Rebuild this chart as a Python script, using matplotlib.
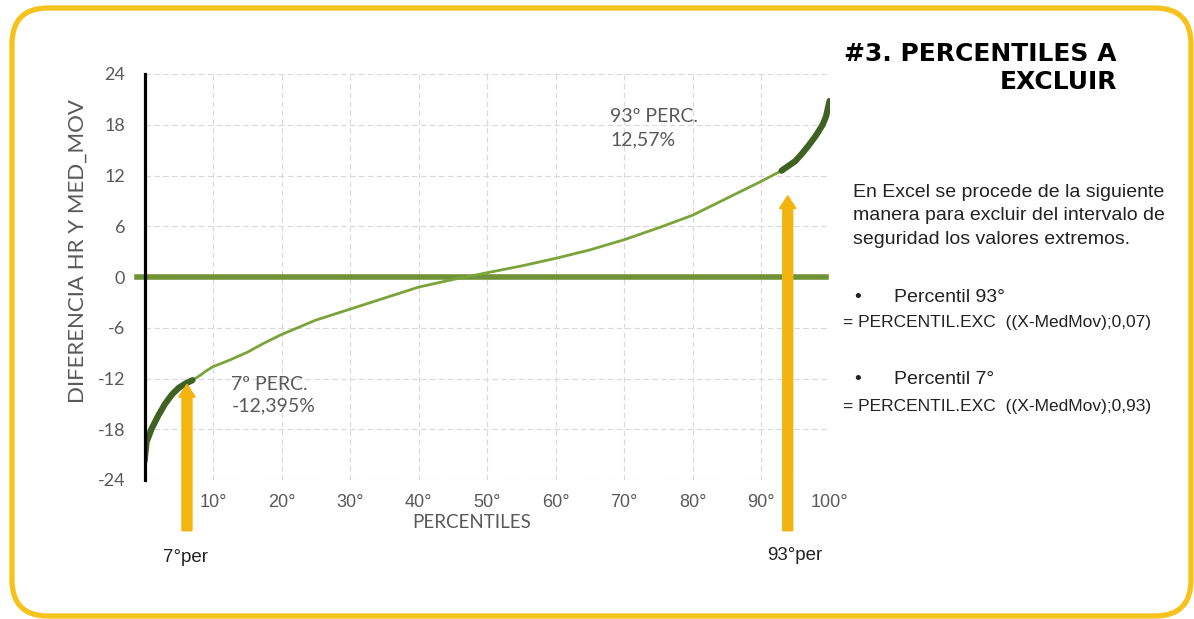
import matplotlib
matplotlib.use('Agg')
import matplotlib.pyplot as plt
from matplotlib.patches import FancyBboxPatch

# percentile vs difference (HR - moving median)
pct = [0, 0.3, 1, 2, 3, 4, 5, 6, 7, 8, 9, 10, 12.5, 15, 17.5, 20, 25, 30, 35,
       40, 45, 50, 55, 60, 65, 70, 75, 80, 85, 90, 93, 95, 96, 97, 98, 99,
       99.5, 100]
diff = [-21.8, -19.5, -18.0, -16.4, -15.0, -13.9, -13.1, -12.6, -12.2, -11.7,
        -11.1, -10.6, -9.8, -8.9, -7.8, -6.8, -5.1, -3.8, -2.5, -1.2, -0.3,
        0.5, 1.3, 2.2, 3.2, 4.4, 5.8, 7.3, 9.3, 11.3, 12.57, 13.7, 14.6, 15.6,
        16.7, 18.0, 19.0, 20.8]

xticks = [10, 20, 30, 40, 50, 60, 70, 80, 90, 100]
xtick_labels = ['10°', '20°', '30°', '40°', '50°', '60°', '70°', '80°', '90°', '100°']
yticks = [-24, -18, -12, -6, 0, 6, 12, 18, 24]

low_cut = 7
high_cut = 93
arrow_x = [6.2, 93.9]
arrow_tip = [-12.7, 9.6]

light_green = '#7aa33a'
dark_green = '#3f6121'
zero_green = '#6f9236'
gold = '#f4b40f'
grey = '#595959'

fig = plt.figure(figsize=(11.94, 6.19), dpi=100)

# rounded yellow frame
frame = FancyBboxPatch((0.12, 0.03), 11.79, 6.08,
                       boxstyle='round,pad=0,rounding_size=0.36',
                       transform=fig.dpi_scale_trans, fill=False,
                       edgecolor='#f6c21c', linewidth=3.8)
fig.patches.append(frame)

ax = fig.add_axes([144.5 / 1194, (619 - 480) / 619, 685 / 1194, 406 / 619])
ax.set_xlim(0, 100)
ax.set_ylim(-24, 24)

ax.grid(True, color='#d9d9d9', linestyle=(0, (5, 3)), linewidth=0.8)
ax.set_axisbelow(True)
for s in ['top', 'right', 'bottom']:
    ax.spines[s].set_visible(False)
ax.spines['left'].set_color('black')
ax.spines['left'].set_linewidth(2.3)
ax.spines['left'].set_zorder(5)

ax.axhline(0, xmin=-0.011, xmax=0.995, color=zero_green, linewidth=4.0,
           clip_on=False, zorder=3)

ax.plot(pct, diff, color=light_green, linewidth=2.0, zorder=4)
lo = [i for i, p in enumerate(pct) if p <= low_cut]
hi = [i for i, p in enumerate(pct) if p >= high_cut]
ax.plot([pct[i] for i in lo], [diff[i] for i in lo], color=dark_green,
        linewidth=4.5, solid_capstyle='round', zorder=5)
ax.plot([pct[i] for i in hi], [diff[i] for i in hi], color=dark_green,
        linewidth=4.5, solid_capstyle='round', zorder=5)

ax.set_xticks(xticks)
ax.set_xticklabels(xtick_labels, fontsize=13, color=grey,
                   family='Liberation Sans')
ax.set_yticks(yticks)
ax.set_yticklabels([str(v) for v in yticks], fontsize=13, color=grey,
                   family='Lato')
ax.tick_params(axis='both', length=0)
ax.tick_params(axis='x', pad=10)
ax.tick_params(axis='y', pad=14)

ax.set_xlabel('PERCENTILES', fontsize=13.5, color=grey, family='Lato')
ax.xaxis.set_label_coords(0.478, -0.084)
ax.set_ylabel('DIFERENCIA HR Y MED_MOV', fontsize=16, color=grey,
              family='Lato')
ax.yaxis.set_label_coords(-0.083, 0.564)

# yellow arrows
for xa, tip in zip(arrow_x, arrow_tip):
    ax.arrow(xa, -30.0, 0, tip + 30.0, width=1.45, head_width=2.4,
             head_length=1.5, length_includes_head=True, color=gold,
             clip_on=False, zorder=6)

ax.text(6.0, -33.2, '7°per', fontsize=13.5, color='#222222', ha='center',
        va='center', family='Liberation Sans')
ax.text(95.0, -32.9, '93°per', fontsize=13.5, color='#222222', ha='center',
        va='center', family='Liberation Sans')

ax.text(12.7, -14.0, '7º PERC.\n-12,395%', fontsize=14, color=grey,
        family='Lato', va='center', ha='left', linespacing=1.35)
ax.text(68.0, 17.6, '93º PERC.\n12,57%', fontsize=14, color=grey,
        family='Lato', va='center', ha='left', linespacing=1.4)

# right side text
fig.text(1117 / 1194, 1 - 42 / 619, '#3. PERCENTILES A\nEXCLUIR', fontsize=18,
         fontweight='heavy', color='black', ha='right', va='top',
         multialignment='right', family='DejaVu Sans', linespacing=1.2)

fig.text(853 / 1194, 1 - 216 / 619,
         'En Excel se procede de la siguiente\nmanera para excluir del intervalo de\nseguridad los valores extremos.',
         fontsize=14, color='#222222', ha='left', va='center',
         family='Liberation Sans', linespacing=1.52)

fig.text(855 / 1194, 1 - 298 / 619, '•      Percentil 93°', fontsize=14,
         color='#222222', ha='left', va='center', family='Liberation Sans')
fig.text(843 / 1194, 1 - 323 / 619, '= PERCENTIL.EXC  ((X-MedMov);0,07)',
         fontsize=12.5, color='#222222', ha='left', va='center',
         family='Liberation Sans')
fig.text(855 / 1194, 1 - 380 / 619, '•      Percentil 7°', fontsize=14,
         color='#222222', ha='left', va='center', family='Liberation Sans')
fig.text(843 / 1194, 1 - 407 / 619, '= PERCENTIL.EXC  ((X-MedMov);0,93)',
         fontsize=12.5, color='#222222', ha='left', va='center',
         family='Liberation Sans')

fig.savefig('out.png', dpi=100)
